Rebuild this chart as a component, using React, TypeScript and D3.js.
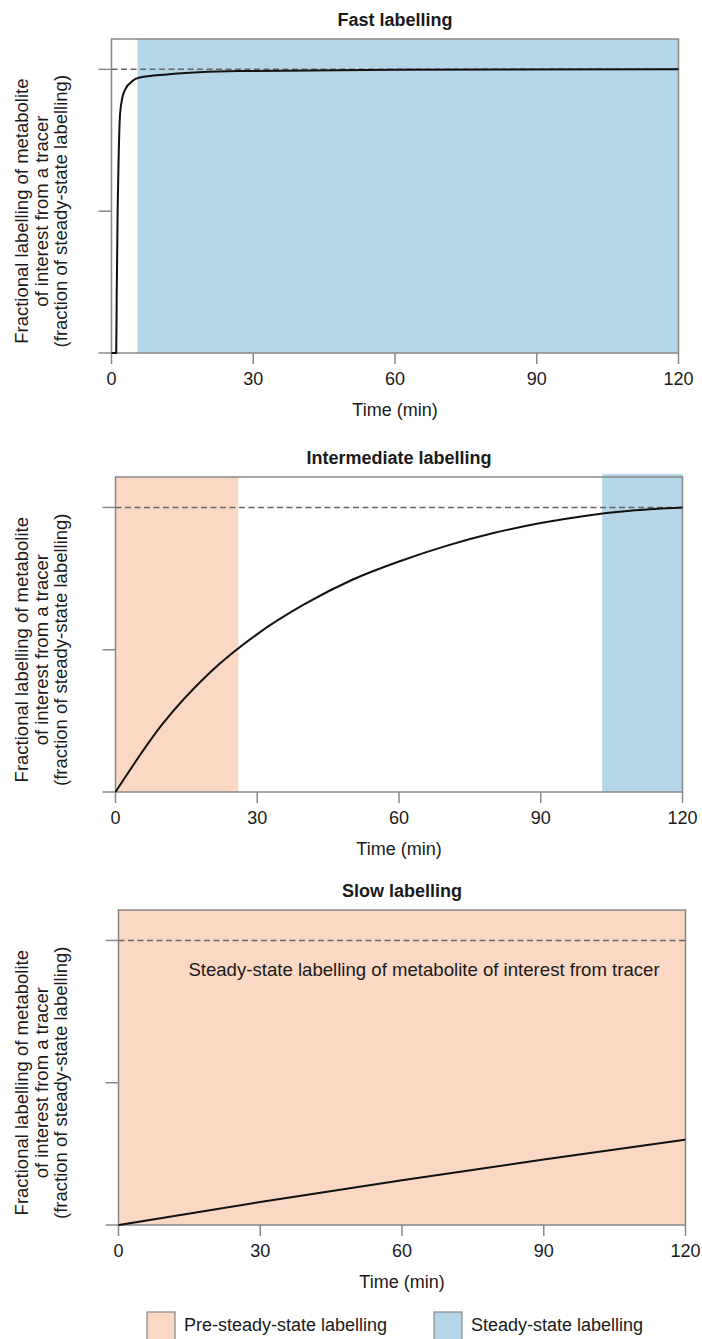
import React from 'react'
import * as d3 from 'd3'

const width = 702
const height = 1339

// panel titles and axis text
const titles = ['Fast labelling', 'Intermediate labelling', 'Slow labelling']
const timeTicks = [0, 30, 60, 90, 120]
const valueTicks = [0, 0.5, 1]
const yLabelLines = [
  'Fractional labelling of metabolite',
  'of interest from a tracer',
  '(fraction of steady-state labelling)',
]
const xLabel = 'Time (min)'
const slowNote = 'Steady-state labelling of metabolite of interest from tracer'
const legendLabels = ['Pre-steady-state labelling', 'Steady-state labelling']

// curves
const fastTime = [0, 1.0, 1.1, 1.3, 1.5, 1.8, 2.3, 2.8, 4.6, 6, 11.7, 27, 60, 120]
const fastValue = [0, 0, 0.2, 0.5, 0.68, 0.84, 0.9, 0.926, 0.961, 0.971, 0.982, 0.994, 0.999, 1]
const interTime = [0, 10, 20, 30, 40, 50, 60, 70, 80, 90, 100, 110, 120]
const interValue = [0, 0.24, 0.42, 0.555, 0.66, 0.745, 0.81, 0.865, 0.91, 0.945, 0.972, 0.99, 1]
const slowTime = [0, 30, 60, 90, 120]
const slowValue = [0, 0.081, 0.157, 0.23, 0.3]

// shaded phases: [start, end] in minutes
const fastSteady = [5.5, 120]
const interPre = [0, 26]
const interSteady = [103, 120]
const slowPre = [0, 120]

const preColor = '#fbd8c3'
const steadyColor = '#b5d5e8'
const boxColor = '#888'
const font = '"Liberation Sans", Arial, sans-serif'

const panels = [
  { title: titles[0], left: 111.5, top: 39, bottom: 353, time: fastTime, value: fastValue, pre: null, steady: fastSteady, note: false },
  { title: titles[1], left: 115.5, top: 477, bottom: 792, time: interTime, value: interValue, pre: interPre, steady: interSteady, note: false },
  { title: titles[2], left: 118.5, top: 910, bottom: 1225, time: slowTime, value: slowValue, pre: slowPre, steady: null, note: true },
]

const Panel = ({ p, idx }) => {
  const plotW = 567
  const x = d3.scaleLinear().domain([0, 120]).range([p.left, p.left + plotW])
  const y = d3.scaleLinear().domain([0, 1.107]).range([p.bottom, p.top])
  const line = d3
    .line<number>()
    .x((d, i) => x(p.time[i]))
    .y((d) => y(d))
    .curve(d3.curveMonotoneX)
  const cx = p.left + plotW / 2

  return (
    <g key={idx}>
      <text x={cx} y={p.top - 13} textAnchor="middle" fontWeight="bold" fontSize={18}>
        {p.title}
      </text>
      {p.pre && (
        <rect x={x(p.pre[0])} y={y(1.107)} width={x(p.pre[1]) - x(p.pre[0])} height={p.bottom - p.top} fill={preColor} />
      )}
      {p.steady && (
        <rect
          x={x(p.steady[0])}
          y={y(1.107) - (idx === 1 ? 3 : 0)}
          width={x(p.steady[1]) - x(p.steady[0])}
          height={p.bottom - p.top + (idx === 1 ? 3 : 0)}
          fill={steadyColor}
        />
      )}
      <rect x={p.left} y={p.top} width={plotW} height={p.bottom - p.top} fill="none" stroke={boxColor} strokeWidth={1.5} />
      <line x1={p.left} x2={p.left + plotW} y1={y(1)} y2={y(1)} stroke="#666" strokeWidth={1.5} strokeDasharray="6,3.5" />
      {valueTicks.map((v) => (
        <line key={v} x1={p.left - 13} x2={p.left} y1={y(v)} y2={y(v)} stroke={boxColor} strokeWidth={1.5} />
      ))}
      {timeTicks.map((t) => (
        <g key={t}>
          <line x1={x(t)} x2={x(t)} y1={p.bottom} y2={p.bottom + 11} stroke={boxColor} strokeWidth={1.5} />
          <text x={x(t)} y={p.bottom + 32} textAnchor="middle" fontSize={18}>
            {t}
          </text>
        </g>
      ))}
      <text x={cx} y={p.bottom + 63} textAnchor="middle" fontSize={18}>
        {xLabel}
      </text>
      {p.note && (
        <text x={x(15) - 1} y={y(1) + 36} fontSize={18.6}>
          {slowNote}
        </text>
      )}
      <path d={line(p.value) || ''} fill="none" stroke="#111" strokeWidth={2} />
      {yLabelLines.map((s, i) => (
        <text
          key={i}
          transform={`translate(${22 + i * 19.5},${y(0.5)}) rotate(-90)`}
          textAnchor="middle"
          dy="0.35em"
          fontSize={18.5}
        >
          {s}
        </text>
      ))}
    </g>
  )
}

export default function App() {
  return (
    <svg
      width={width}
      height={height}
      style={{ position: 'absolute', left: 0, top: 0, background: '#fff' }}
      fontFamily={font}
      fill="#1a1a1a"
    >
      {panels.map((p, i) => (
        <Panel key={i} p={p} idx={i} />
      ))}
      <g>
        <rect x={147} y={1312} width={28} height={28} fill={preColor} stroke={boxColor} strokeWidth={1.2} />
        <text x={184} y={1331} fontSize={18}>
          {legendLabels[0]}
        </text>
        <rect x={434} y={1312} width={28} height={28} fill={steadyColor} stroke={boxColor} strokeWidth={1.2} />
        <text x={471} y={1331} fontSize={18}>
          {legendLabels[1]}
        </text>
      </g>
    </svg>
  )
}
